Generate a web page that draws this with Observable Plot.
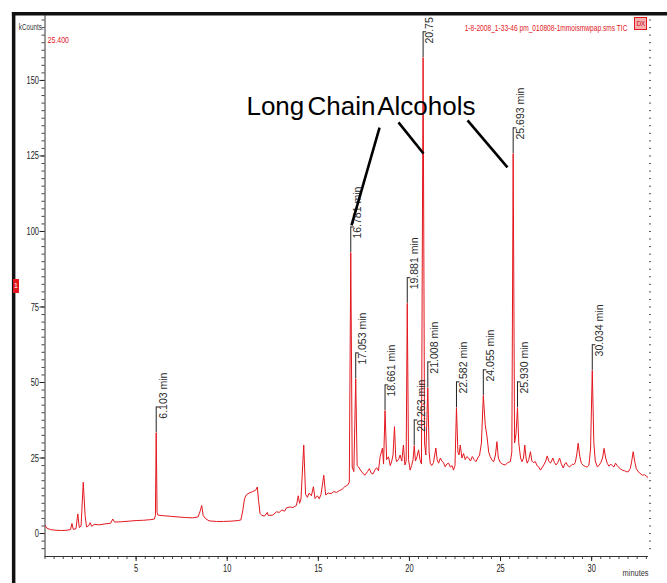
<!DOCTYPE html>
<html><head><meta charset="utf-8">
<script src="https://cdn.jsdelivr.net/npm/d3@7"></script>
<script src="https://cdn.jsdelivr.net/npm/@observablehq/plot@0.6"></script>
<style>
html,body{margin:0;padding:0;background:#fff;}
#wrap{position:relative;width:667px;height:583px;overflow:hidden;background:#fff;}
#wrap svg{position:absolute;left:0;top:0;}
.marker1{position:absolute;left:13px;top:279px;width:6px;height:14px;background:#e3171e;color:#fff;font:7px "Liberation Sans",sans-serif;line-height:14px;text-align:center;}
.dx{position:absolute;left:634px;top:17px;width:11px;height:11px;border:1px solid #e3171e;background:#f6b0b0;color:#c8101a;font:6.5px "Liberation Sans",sans-serif;line-height:11px;text-align:center;letter-spacing:-0.5px;}
</style></head>
<body>
<div id="wrap"></div>
<script>
// ---- data ----
const traceTime = [0.00,0.10,0.30,0.60,0.90,1.20,1.40,1.48,1.55,1.70,1.80,1.88,1.98,2.10,2.20,2.28,2.40,2.48,2.56,2.70,3.00,3.30,3.60,3.72,3.82,4.20,4.60,5.00,5.40,5.80,6.00,6.06,6.103,6.15,6.20,6.50,6.90,7.30,7.70,8.10,8.40,8.52,8.60,8.68,8.80,9.00,9.40,9.80,10.20,10.60,10.75,10.85,10.95,11.05,11.20,11.40,11.55,11.65,11.72,11.80,11.90,12.05,12.20,12.25,12.50,12.70,12.85,13.00,13.15,13.25,13.45,13.60,13.80,13.90,13.97,14.05,14.20,14.30,14.40,14.50,14.62,14.73,14.82,14.95,15.05,15.15,15.30,15.40,15.55,15.70,15.85,16.00,16.15,16.30,16.45,16.60,16.70,16.781,16.86,16.95,17.053,17.13,17.20,17.38,17.55,17.70,17.80,17.90,18.00,18.10,18.20,18.30,18.39,18.52,18.58,18.661,18.75,18.85,18.95,19.03,19.10,19.18,19.25,19.30,19.40,19.49,19.58,19.67,19.75,19.82,19.881,19.95,20.04,20.12,20.20,20.263,20.33,20.42,20.50,20.58,20.66,20.75,20.83,20.90,21.008,21.08,21.14,21.22,21.32,21.45,21.52,21.60,21.70,21.78,21.87,21.96,22.05,22.15,22.25,22.34,22.42,22.50,22.582,22.66,22.72,22.79,22.88,22.97,23.06,23.15,23.25,23.35,23.45,23.55,23.65,23.75,23.85,23.95,24.055,24.16,24.26,24.35,24.44,24.54,24.63,24.72,24.80,24.88,24.99,25.10,25.26,25.40,25.54,25.62,25.693,25.77,25.85,25.930,26.00,26.10,26.18,26.26,26.33,26.40,26.46,26.55,26.64,26.72,26.80,26.91,27.00,27.10,27.19,27.30,27.40,27.48,27.56,27.65,27.74,27.80,27.87,27.96,28.05,28.14,28.24,28.34,28.44,28.52,28.60,28.68,28.78,28.88,28.95,29.02,29.10,29.18,29.26,29.35,29.44,29.55,29.66,29.75,29.85,29.94,30.034,30.12,30.20,30.31,30.40,30.50,30.60,30.68,30.77,30.86,30.95,31.05,31.13,31.22,31.31,31.40,31.50,31.60,31.68,31.80,31.90,32.00,32.12,32.20,32.28,32.36,32.45,32.55,32.65,32.78,32.90,33.00,33.06,33.12];
const traceKCounts = [2.7,1.8,1.3,1.1,1.0,1.1,1.3,3.3,1.4,1.6,6.5,2.0,2.5,17.0,6.0,2.2,2.6,3.6,2.4,3.0,2.9,3.2,3.4,4.8,3.8,3.9,4.1,4.3,4.4,4.6,4.8,6.0,33.4,7.0,6.1,5.9,5.7,5.5,5.3,5.2,5.5,7.5,9.3,6.0,5.0,4.2,4.0,4.0,4.1,4.3,4.5,7.5,11.5,12.8,13.4,13.9,14.3,15.4,11.0,6.7,6.0,5.8,7.0,6.0,6.1,7.2,7.0,7.8,7.4,8.5,8.8,8.6,9.3,12.5,10.0,11.5,29.3,13.0,12.0,13.4,12.5,15.5,11.6,12.5,11.5,13.0,19.3,12.8,13.4,13.2,13.9,13.6,14.2,14.6,15.5,16.0,17.0,93.0,22.0,20.5,51.3,22.5,22.1,20.4,19.3,20.5,21.5,20.0,19.7,21.0,21.8,20.8,25.4,28.3,23.0,40.7,24.5,25.4,22.5,24.0,26.0,35.4,25.0,23.8,24.5,26.0,24.0,29.3,22.7,24.0,76.2,24.5,21.0,22.5,24.5,29.1,24.0,25.5,27.7,24.5,23.0,157.6,30.0,26.0,48.3,27.0,23.3,22.5,23.5,28.3,24.5,23.3,25.0,24.0,23.5,22.1,23.0,23.3,22.0,22.5,21.0,22.5,41.7,27.0,26.0,29.3,25.0,26.5,24.5,25.5,25.0,24.0,25.5,24.5,23.8,25.0,26.0,30.0,45.7,36.0,32.0,27.0,25.4,24.2,23.8,26.0,30.4,25.0,23.5,23.0,22.7,23.5,23.8,27.0,125.8,30.0,33.0,41.7,30.0,25.0,23.8,25.0,29.3,25.0,23.3,24.5,27.1,24.0,23.5,23.8,22.5,22.0,21.0,22.0,23.0,24.0,25.7,24.0,23.3,24.0,25.0,23.5,22.7,23.5,25.0,23.0,21.7,23.0,23.5,22.5,22.1,22.5,23.0,22.8,23.5,26.0,29.9,25.5,23.2,22.5,22.2,22.0,22.6,28.0,54.0,30.0,24.0,22.1,22.5,23.5,25.0,28.2,25.0,23.2,22.3,23.0,22.5,22.0,23.3,22.5,21.8,21.3,21.0,20.8,20.5,20.4,21.5,24.0,27.1,24.0,21.5,20.5,20.0,19.3,19.5,19.0,18.8,18.2];

const peakTimes   = [6.103, 16.781, 17.053, 18.661, 19.881, 20.263, 20.75, 21.008, 22.582, 24.055, 25.693, 25.930, 30.034];
const peakKCounts = [33.4, 93.0, 51.3, 40.7, 76.2, 29.1, 157.6, 48.3, 41.7, 45.7, 125.8, 41.7, 54.0];
const peakLabels  = ["6.103 min","16.781 min","17.053 min","18.661 min","19.881 min","20.263 min","20.75","21.008 min","22.582 min","24.055 min","25.693 min","25.930 min","30.034 min"];

const xTickValues = [5, 10, 15, 20, 25, 30];
const yTickValues = [0, 25, 50, 75, 100, 125, 150];
const xDomain = [0, 33.12];
const yDomain = [-7.6, 171.5];

const calloutText = "Long Chain Alcohols";
const calloutTextPos = [17.34, 141.2];
const calloutFromT = [18.36, 19.40, 23.19];
const calloutFromV = [134.4, 136.1, 136.8];
const calloutToT   = [16.82, 20.77, 25.38];
const calloutToV   = [102.0, 125.8, 121.2];

// screen window edge (top and left), in minutes / kCounts beyond the plotted range
const windowLeftT = -1.72;
const windowRightT = 34.2;
const windowTopV = 172.1;
const windowBottomV = -16.6;

const fileTitle = "1-8-2008_1-33-46 pm_010808-1mmoismwpap.sms TIC";
const yUnitLabel = "kCounts.";
const xUnitLabel = "minutes";
const scaleMaxLabel = "25.400";

// ---- build ----
const trace = traceTime.map((t, i) => ({t, v: traceKCounts[i]}));
const peaks = peakTimes.map((t, i) => ({t, v: peakKCounts[i], label: peakLabels[i]}));
const callouts = calloutFromT.map((t, i) => ({t1: t, v1: calloutFromV[i], t2: calloutToT[i], v2: calloutToV[i]}));
const xMinor = d3.range(0, xDomain[1], 0.5);
const yMinor = d3.range(-5, yDomain[1], 2.5);
const windowEdges = [
  {t1: windowLeftT, v1: windowTopV, t2: windowLeftT, v2: windowBottomV},
  {t1: windowLeftT, v1: windowTopV, t2: windowRightT, v2: windowTopV}
];

const sans = '"Liberation Sans",Arial,sans-serif';
const red = "#e3171e";

const chart = Plot.plot({
  width: 667, height: 583,
  marginLeft: 44.5, marginRight: 19, marginTop: 15, marginBottom: 27,
  x: {domain: xDomain},
  y: {domain: yDomain},
  style: {fontFamily: sans, background: "transparent", color: "#222", overflow: "visible"},
  marks: [
    Plot.link(windowEdges, {x1: "t1", y1: "v1", x2: "t2", y2: "v2", stroke: "#111", strokeWidth: 3.5, strokeLinecap: "square"}),
    Plot.axisX({ticks: xMinor, tickSize: 3, tickFormat: () => "", label: null, stroke: "#444"}),
    Plot.axisX({ticks: xTickValues, tickSize: 5, tickPadding: 3, tickFormat: d => String(d), label: null, fontSize: 11, stroke: "#222"}),
    Plot.axisY({ticks: yMinor, tickSize: 3, tickFormat: () => "", label: null, stroke: "#444"}),
    Plot.axisY({ticks: yTickValues, tickSize: 5, tickPadding: 1, tickFormat: d => String(d), label: null, fontSize: 11, stroke: "#222"}),
    Plot.axisY({anchor: "right", ticks: yMinor, tickSize: 2, tickFormat: () => "", label: null, stroke: "#555"}),
    Plot.ruleX([xDomain[0]], {stroke: "#333"}),
    Plot.ruleY([yDomain[0]], {stroke: "#333"}),
    Plot.line(trace, {x: "t", y: "v", stroke: red, strokeWidth: 1, clip: true}),
    Plot.ruleX(peaks, {x: "t", y1: "v", y2: d => d.v + 8.5, stroke: "#222", strokeWidth: 1, clip: true}),
    Plot.link(peaks, {x1: "t", x2: d => d.t + 0.17, y1: d => d.v + 8.5, y2: d => d.v + 8.5, stroke: "#222", strokeWidth: 1, clip: true}),
    Plot.text(peaks, {x: "t", y: "v", text: "label", rotate: -90, textAnchor: "start", dx: 7, dy: -14, fontSize: 10.5, fill: "#2a2a2a", clip: true}),
    Plot.link(callouts, {x1: "t1", y1: "v1", x2: "t2", y2: "v2", stroke: "#000", strokeWidth: 2.6}),
    Plot.text([calloutText], {x: calloutTextPos[0], y: calloutTextPos[1], text: d => d, fontSize: 26, fill: "#000", textAnchor: "middle"}),
    Plot.text([fileTitle], {frameAnchor: "top-right", dx: -21, dy: 9, text: d => d, fill: red, fontSize: 8.5, textAnchor: "end"}),
    Plot.text([scaleMaxLabel], {frameAnchor: "top-left", dx: 2.5, dy: 21.5, text: d => d, fill: red, fontSize: 9, textAnchor: "start"}),
    Plot.text([yUnitLabel], {frameAnchor: "top-left", dx: -1.5, dy: 8, text: d => d, fill: "#333", fontSize: 9.5, textAnchor: "end"}),
    Plot.text([xUnitLabel], {frameAnchor: "bottom-right", dx: 0, dy: 19, text: d => d, fill: "#333", fontSize: 9.5, textAnchor: "end"})
  ]
});

const wrap = document.getElementById("wrap");
wrap.appendChild(chart);

// condensed look of the instrument software's small type: squeeze horizontally about each text's anchor
function condense(nodes, f) {
  nodes.forEach(n => {
    const t = n.getAttribute("transform") || "";
    n.setAttribute("transform", (t + ` scale(${f},1)`).trim());
  });
}
const allText = Array.from(chart.querySelectorAll("text"));
const axisText = Array.from(chart.querySelectorAll('g[aria-label$="tick label"] text'));
condense(axisText, 0.68);
condense(allText.filter(n => [fileTitle, scaleMaxLabel, xUnitLabel].includes(n.textContent)), 0.78);
condense(allText.filter(n => n.textContent === yUnitLabel), 0.66);
allText.filter(n => n.textContent === calloutText).forEach(n => n.style.wordSpacing = "-4px");

const m1 = document.createElement("div"); m1.className = "marker1"; m1.textContent = "1"; wrap.appendChild(m1);
const dx = document.createElement("div"); dx.className = "dx"; dx.textContent = "DX"; wrap.appendChild(dx);
</script>
</body></html>
